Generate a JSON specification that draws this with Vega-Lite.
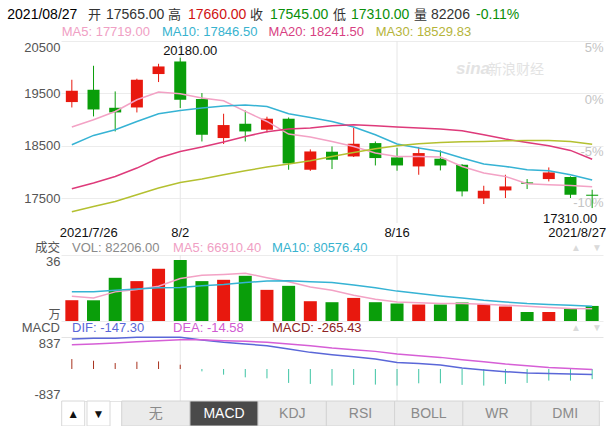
{
  "$schema": "https://vega.github.io/schema/vega-lite/v6.json",
  "padding": {"left": 7, "top": 0, "right": 0, "bottom": 0},
  "background": "white",
  "bounds": "flush",
  "spacing": 0,
  "config": {
    "view": {"stroke": null},
    "font": "Liberation Sans, Noto Sans CJK SC",
    "axis": {"domain": false, "ticks": false, "title": null, "labelFont": "Liberation Sans, Noto Sans CJK SC", "labelFontSize": 13, "labelColor": "#555555", "gridColor": "#ececec", "gridWidth": 1}
  },
  "datasets": {
    "k": [
      {"date":"2021-07-26","open":19334,"high":19760,"low":19231,"close":19550,"ma5":18857,"ma10":18519,"ma20":17679,"ma30":17240,"vol":113400,"vma5":135300,"vma10":159000,"dif":786,"dea":637,"macd":260},
      {"date":"2021-07-27","open":19569,"high":20027,"low":19060,"close":19193,"ma5":18996,"ma10":18697,"ma20":17788,"ma30":17341,"vol":113000,"vma5":126000,"vma10":159000,"dif":802,"dea":655,"macd":216},
      {"date":"2021-07-28","open":19225,"high":19537,"low":18773,"close":19136,"ma5":19155,"ma10":18806,"ma20":17914,"ma30":17437,"vol":235600,"vma5":158900,"vma10":168000,"dif":802,"dea":681,"macd":156},
      {"date":"2021-07-29","open":19231,"high":19780,"low":19136,"close":19760,"ma5":19378,"ma10":18964,"ma20":18074,"ma30":17565,"vol":217500,"vma5":172000,"vma10":174000,"dif":828,"dea":715,"macd":190},
      {"date":"2021-07-30","open":19869,"high":20065,"low":19716,"close":20014,"ma5":19525,"ma10":19111,"ma20":18265,"ma30":17692,"vol":284900,"vma5":190000,"vma10":181000,"dif":830,"dea":741,"macd":198},
      {"date":"2021-08-02","open":20109,"high":20180,"low":19220,"close":19378,"ma5":19493,"ma10":19174,"ma20":18391,"ma30":17800,"vol":332600,"vma5":232000,"vma10":183000,"dif":828,"dea":768,"macd":112},
      {"date":"2021-08-03","open":19392,"high":19506,"low":18582,"close":18710,"ma5":19411,"ma10":19220,"ma20":18475,"ma30":17864,"vol":217500,"vma5":250000,"vma10":192000,"dif":757,"dea":762,"macd":-62},
      {"date":"2021-08-04","open":18647,"high":19111,"low":18533,"close":18895,"ma5":19359,"ma10":19258,"ma20":18571,"ma30":17946,"vol":224700,"vma5":254000,"vma10":199000,"dif":697,"dea":741,"macd":-148},
      {"date":"2021-08-05","open":18920,"high":19174,"low":18582,"close":18773,"ma5":19155,"ma10":19277,"ma20":18678,"ma30":18023,"vol":246600,"vma5":260000,"vma10":210000,"dif":655,"dea":723,"macd":-218},
      {"date":"2021-08-06","open":18806,"high":19054,"low":18754,"close":19016,"ma5":18964,"ma10":19250,"ma20":18767,"ma30":18093,"vol":169900,"vma5":236000,"vma10":218000,"dif":610,"dea":697,"macd":-244},
      {"date":"2021-08-09","open":19016,"high":19040,"low":18042,"close":18163,"ma5":18723,"ma10":19111,"ma20":18819,"ma30":18151,"vol":191800,"vma5":214000,"vma10":219000,"dif":524,"dea":655,"macd":-364},
      {"date":"2021-08-10","open":18042,"high":18430,"low":18020,"close":18391,"ma5":18666,"ma10":19040,"ma20":18838,"ma30":18214,"vol":107900,"vma5":186000,"vma10":214000,"dif":435,"dea":610,"macd":-390},
      {"date":"2021-08-11","open":18386,"high":18487,"low":18055,"close":18233,"ma5":18582,"ma10":18964,"ma20":18882,"ma30":18296,"vol":102500,"vma5":168000,"vma10":210000,"dif":375,"dea":550,"macd":-434},
      {"date":"2021-08-12","open":18296,"high":18840,"low":18285,"close":18538,"ma5":18487,"ma10":18857,"ma20":18901,"ma30":18373,"vol":126000,"vma5":141000,"vma10":196000,"dif":322,"dea":506,"macd":-416},
      {"date":"2021-08-13","open":18551,"high":18582,"low":18124,"close":18265,"ma5":18361,"ma10":18710,"ma20":18882,"ma30":18443,"vol":102500,"vma5":119000,"vma10":181000,"dif":262,"dea":461,"macd":-408},
      {"date":"2021-08-16","open":18277,"high":18460,"low":18023,"close":18124,"ma5":18296,"ma10":18533,"ma20":18857,"ma30":18500,"vol":95300,"vma5":104000,"vma10":163000,"dif":173,"dea":393,"macd":-434},
      {"date":"2021-08-17","open":18105,"high":18475,"low":17946,"close":18360,"ma5":18296,"ma10":18456,"ma20":18838,"ma30":18538,"vol":89900,"vma5":99000,"vma10":150000,"dif":147,"dea":348,"macd":-374},
      {"date":"2021-08-18","open":18252,"high":18411,"low":18029,"close":18124,"ma5":18284,"ma10":18391,"ma20":18819,"ma30":18563,"vol":89900,"vma5":95000,"vma10":137000,"dif":105,"dea":304,"macd":-374},
      {"date":"2021-08-19","open":18137,"high":18150,"low":17533,"close":17628,"ma5":18105,"ma10":18265,"ma20":18786,"ma30":18576,"vol":100800,"vma5":95000,"vma10":126000,"dif":26,"dea":244,"macd":-416},
      {"date":"2021-08-20","open":17494,"high":17736,"low":17387,"close":17641,"ma5":17979,"ma10":18151,"ma20":18710,"ma30":18582,"vol":91500,"vma5":91500,"vma10":113000,"dif":-26,"dea":191,"macd":-434},
      {"date":"2021-08-23","open":17647,"high":17946,"low":17502,"close":17723,"ma5":17914,"ma10":18105,"ma20":18628,"ma30":18595,"vol":79000,"vma5":86000,"vma10":104000,"dif":-71,"dea":131,"macd":-390},
      {"date":"2021-08-24","open":17800,"high":17864,"low":17673,"close":17775,"ma5":17775,"ma10":18042,"ma20":18563,"ma30":18602,"vol":49000,"vma5":80500,"vma10":95000,"dif":-105,"dea":86,"macd":-364},
      {"date":"2021-08-25","open":17864,"high":18086,"low":17819,"close":17990,"ma5":17756,"ma10":18023,"ma20":18500,"ma30":18602,"vol":49000,"vma5":73000,"vma10":90000,"dif":-115,"dea":42,"macd":-304},
      {"date":"2021-08-26","open":17902,"high":17915,"low":17502,"close":17565,"ma5":17742,"ma10":17946,"ma20":18411,"ma30":18582,"vol":70000,"vma5":68000,"vma10":86000,"dif":-131,"dea":16,"macd":-304},
      {"date":"2021-08-27","open":17565,"high":17660,"low":17310,"close":17545,"ma5":17719,"ma10":17847,"ma20":18242,"ma30":18530,"vol":82206,"vma5":66910,"vma10":80576,"dif":-147,"dea":-15,"macd":-265}
    ],
    "vg": [{"date":"2021-08-02"},{"date":"2021-08-16"}],
    "hi": [{"date":"2021-08-02","price":20180,"label":"20180.00"}],
    "lo": [{"date":"2021-08-27","price":17310,"label":"17310.00"}],
    "one": [{}],
    "arrows": [{"b":"▲"},{"b":"▼"}],
    "tabs": [{"t":"无"},{"t":"MACD"},{"t":"KDJ"},{"t":"RSI"},{"t":"BOLL"},{"t":"WR"},{"t":"DMI"}]
  },
  "vconcat": [
    {
      "width": 542, "height": 41,
      "data": {"name": "one"},
      "layer": [
        {"mark": {"type":"text","text":"2021/08/27","align":"left","baseline":"middle","fontSize":14,"color":"#000000"}, "encoding": {"x":{"value":-53.7},"y":{"value":15.3}}},
        {"mark": {"type":"text","text":"开","align":"left","baseline":"middle","fontSize":13,"color":"#333333"}, "encoding": {"x":{"value":27},"y":{"value":15.3}}},
        {"mark": {"type":"text","text":"17565.00","align":"left","baseline":"middle","fontSize":14,"color":"#333333"}, "encoding": {"x":{"value":45},"y":{"value":15.3}}},
        {"mark": {"type":"text","text":"高","align":"left","baseline":"middle","fontSize":13,"color":"#333333"}, "encoding": {"x":{"value":107},"y":{"value":15.3}}},
        {"mark": {"type":"text","text":"17660.00","align":"left","baseline":"middle","fontSize":14,"color":"#d01212"}, "encoding": {"x":{"value":127},"y":{"value":15.3}}},
        {"mark": {"type":"text","text":"收","align":"left","baseline":"middle","fontSize":13,"color":"#333333"}, "encoding": {"x":{"value":189},"y":{"value":15.3}}},
        {"mark": {"type":"text","text":"17545.00","align":"left","baseline":"middle","fontSize":14,"color":"#0a8f0a"}, "encoding": {"x":{"value":209},"y":{"value":15.3}}},
        {"mark": {"type":"text","text":"低","align":"left","baseline":"middle","fontSize":13,"color":"#333333"}, "encoding": {"x":{"value":272},"y":{"value":15.3}}},
        {"mark": {"type":"text","text":"17310.00","align":"left","baseline":"middle","fontSize":14,"color":"#0a8f0a"}, "encoding": {"x":{"value":290},"y":{"value":15.3}}},
        {"mark": {"type":"text","text":"量","align":"left","baseline":"middle","fontSize":13,"color":"#333333"}, "encoding": {"x":{"value":353},"y":{"value":15.3}}},
        {"mark": {"type":"text","text":"82206","align":"left","baseline":"middle","fontSize":14,"color":"#333333"}, "encoding": {"x":{"value":370},"y":{"value":15.3}}},
        {"mark": {"type":"text","text":"-0.11%","align":"left","baseline":"middle","fontSize":14,"color":"#0a8f0a"}, "encoding": {"x":{"value":415},"y":{"value":15.3}}},
        {"mark": {"type":"text","text":"MA5: 17719.00","align":"left","baseline":"middle","fontSize":13,"color":"#f0a0c4"}, "encoding": {"x":{"value":0.7},"y":{"value":32}}},
        {"mark": {"type":"text","text":"MA10: 17846.50","align":"left","baseline":"middle","fontSize":13,"color":"#38b3cf"}, "encoding": {"x":{"value":101},"y":{"value":32}}},
        {"mark": {"type":"text","text":"MA20: 18241.50","align":"left","baseline":"middle","fontSize":13,"color":"#d83f82"}, "encoding": {"x":{"value":207.6},"y":{"value":32}}},
        {"mark": {"type":"text","text":"MA30: 18529.83","align":"left","baseline":"middle","fontSize":13,"color":"#b5b43a"}, "encoding": {"x":{"value":314.7},"y":{"value":32}}}
      ]
    },
    {
      "width": 542, "height": 182,
      "data": {"name": "k"},
      "encoding": {
        "x": {"field": "date", "type": "ordinal", "scale": {"type": "band", "paddingInner": 0, "paddingOuter": 0},
              "axis": {"values": ["2021-07-26","2021-08-02","2021-08-16","2021-08-27"],
                       "labelExpr": "datum.value == '2021-07-26' ? '2021/7/26' : datum.value == '2021-08-02' ? '8/2' : datum.value == '2021-08-16' ? '8/16' : '2021/8/27'",
                       "labelAlign": {"condition": [{"test": "datum.value == '2021-07-26'", "value": "left"}, {"test": "datum.value == '2021-08-27'", "value": "right"}], "value": "center"},
                       "labelOffset": {"condition": [{"test": "datum.value == '2021-07-26'", "value": -12}, {"test": "datum.value == '2021-08-27'", "value": 14}], "value": 0},
                       "labelColor": "#111111", "labelFontSize": 13, "labelPadding": 3, "labelAngle": 0, "grid": false}}
      },
      "layer": [
        {"data": {"name": "vg"}, "mark": {"type": "rule", "color": "#e6e6e6", "strokeWidth": 1}, "encoding": {}},
        {"mark": {"type": "rule", "strokeWidth": 1},
         "encoding": {
           "y": {"field": "low", "type": "quantitative", "scale": {"domain": [17025, 20500], "zero": false, "nice": false},
                 "axis": {"values": [17500, 18500, 19500, 20500], "format": "d", "labelFlush": true, "labelPadding": 1, "grid": true, "gridColor": "#ececec"}},
           "y2": {"field": "high"},
           "color": {"condition": {"test": "datum.close >= datum.open", "value": "#e8180e"}, "value": "#0a9e0a"}
         }},
        {"mark": {"type": "bar", "size": 12},
         "encoding": {
           "y": {"field": "open", "type": "quantitative", "scale": {"domain": [17025, 20500], "zero": false, "nice": false}, "axis": null},
           "y2": {"field": "close"},
           "color": {"condition": {"test": "datum.close >= datum.open", "value": "#e8180e"}, "value": "#0a9e0a"}
         }},
        {"mark": {"type": "line", "color": "#f3a2c5", "strokeWidth": 1.5},
         "encoding": {"y": {"field": "ma5", "type": "quantitative", "scale": {"domain": [17025, 20500], "zero": false, "nice": false}, "axis": null}}},
        {"mark": {"type": "line", "color": "#36b3d4", "strokeWidth": 1.5},
         "encoding": {"y": {"field": "ma10", "type": "quantitative", "scale": {"domain": [17025, 20500], "zero": false, "nice": false}, "axis": null}}},
        {"mark": {"type": "line", "color": "#de3a7a", "strokeWidth": 1.5},
         "encoding": {"y": {"field": "ma20", "type": "quantitative", "scale": {"domain": [17025, 20500], "zero": false, "nice": false}, "axis": null}}},
        {"mark": {"type": "line", "color": "#b4c030", "strokeWidth": 1.5},
         "encoding": {"y": {"field": "ma30", "type": "quantitative", "scale": {"domain": [17025, 20500], "zero": false, "nice": false},
                            "axis": {"orient": "right", "values": [17500, 18500, 19500, 20500],
                                     "labelExpr": "datum.value == 20500 ? '5%' : datum.value == 19500 ? '0%' : datum.value == 18500 ? '-5%' : '-10%'",
                                     "labelAlign": "right", "labelPadding": 0, "labelBaseline": "middle",
                                     "labelOffset": {"condition": {"test": "datum.value == 17500", "value": 4.5}, "value": 6},
                                     "labelColor": "#c4c4c4", "labelFontSize": 13, "grid": false, "labelFlush": false}}}},
        {"data": {"name": "hi"}, "mark": {"type": "text", "align": "center", "baseline": "bottom", "dx": 10, "dy": 0, "fontSize": 13, "color": "#111111"},
         "encoding": {"y": {"field": "price", "type": "quantitative", "scale": {"domain": [17025, 20500], "zero": false, "nice": false}, "axis": null}, "text": {"field": "label"}}},
        {"data": {"name": "lo"}, "mark": {"type": "text", "align": "right", "baseline": "top", "dx": 5, "dy": 4.5, "fontSize": 13, "color": "#111111"},
         "encoding": {"y": {"field": "price", "type": "quantitative", "scale": {"domain": [17025, 20500], "zero": false, "nice": false}, "axis": null}, "text": {"field": "label"}}},
        {"data": {"name": "one"}, "mark": {"type": "text", "text": "sina", "align": "left", "baseline": "middle", "fontSize": 17, "fontStyle": "italic", "fontWeight": "bold", "color": "#e3e3e3"},
         "encoding": {"x": {"value": 395}, "y": {"value": 28}}},
        {"data": {"name": "one"}, "mark": {"type": "text", "text": "新浪财经", "align": "left", "baseline": "middle", "fontSize": 14, "color": "#e3e3e3"},
         "encoding": {"x": {"value": 427}, "y": {"value": 29}}}
      ],
      "resolve": {"axis": {"y": "independent"}}
    },
    {
      "width": 542, "height": 32,
      "data": {"name": "one"},
      "layer": [
        {"mark": {"type":"text","text":"成交","align":"right","baseline":"middle","fontSize":12.5,"color":"#555555"}, "encoding": {"x":{"value":-1},"y":{"value":24.5}}},
        {"mark": {"type":"text","text":"VOL: 82206.00","align":"left","baseline":"middle","fontSize":13,"color":"#8a8a8a"}, "encoding": {"x":{"value":11},"y":{"value":24.5}}},
        {"mark": {"type":"text","text":"MA5: 66910.40","align":"left","baseline":"middle","fontSize":13,"color":"#f0a0c4"}, "encoding": {"x":{"value":112},"y":{"value":24.5}}},
        {"mark": {"type":"text","text":"MA10: 80576.40","align":"left","baseline":"middle","fontSize":13,"color":"#38b3cf"}, "encoding": {"x":{"value":211},"y":{"value":24.5}}},
        {"mark": {"type":"text","text":"▲","align":"center","baseline":"middle","fontSize":10,"color":"#dadada"}, "encoding": {"x":{"value":515},"y":{"value":24.5}}},
        {"mark": {"type":"text","text":"▼","align":"center","baseline":"middle","fontSize":10,"color":"#dadada"}, "encoding": {"x":{"value":536},"y":{"value":24.5}}}
      ]
    },
    {
      "width": 542, "height": 66,
      "data": {"name": "k"},
      "encoding": {"x": {"field": "date", "type": "ordinal", "scale": {"type": "band", "paddingInner": 0, "paddingOuter": 0}, "axis": null}},
      "layer": [
        {"data": {"name": "vg"}, "mark": {"type": "rule", "color": "#e6e6e6", "strokeWidth": 1}, "encoding": {}},
        {"mark": {"type": "bar", "size": 13},
         "encoding": {
           "y": {"field": "vol", "type": "quantitative", "scale": {"domain": [0, 360000], "nice": false},
                 "axis": {"values": [0, 360000], "labelExpr": "datum.value == 0 ? '万' : '36'", "labelFlush": true, "labelPadding": 1,
                          "labelFontSize": {"condition": {"test": "datum.value == 0", "value": 12}, "value": 13},
                          "grid": true, "gridColor": "#ececec"}},
           "color": {"condition": {"test": "datum.close >= datum.open", "value": "#e8180e"}, "value": "#0a9e0a"}
         }},
        {"mark": {"type": "line", "color": "#f3a2c5", "strokeWidth": 1.5},
         "encoding": {"y": {"field": "vma5", "type": "quantitative", "scale": {"domain": [0, 360000], "nice": false}}}},
        {"mark": {"type": "line", "color": "#36b3d4", "strokeWidth": 1.5},
         "encoding": {"y": {"field": "vma10", "type": "quantitative", "scale": {"domain": [0, 360000], "nice": false}}}}
      ]
    },
    {
      "width": 542, "height": 16,
      "data": {"name": "one"},
      "layer": [
        {"mark": {"type":"text","text":"MACD","align":"right","baseline":"middle","fontSize":13,"color":"#555555"}, "encoding": {"x":{"value":-1},"y":{"value":7.3}}},
        {"mark": {"type":"text","text":"DIF: -147.30","align":"left","baseline":"middle","fontSize":13,"color":"#5a67d8"}, "encoding": {"x":{"value":11},"y":{"value":7.3}}},
        {"mark": {"type":"text","text":"DEA: -14.58","align":"left","baseline":"middle","fontSize":13,"color":"#d05ad2"}, "encoding": {"x":{"value":112},"y":{"value":7.3}}},
        {"mark": {"type":"text","text":"MACD: -265.43","align":"left","baseline":"middle","fontSize":13,"color":"#8e2424"}, "encoding": {"x":{"value":211},"y":{"value":7.3}}},
        {"mark": {"type":"text","text":"▲","align":"center","baseline":"middle","fontSize":10,"color":"#dadada"}, "encoding": {"x":{"value":515},"y":{"value":7.3}}},
        {"mark": {"type":"text","text":"▼","align":"center","baseline":"middle","fontSize":10,"color":"#dadada"}, "encoding": {"x":{"value":536},"y":{"value":7.3}}}
      ]
    },
    {
      "width": 542, "height": 64,
      "data": {"name": "k"},
      "encoding": {"x": {"field": "date", "type": "ordinal", "scale": {"type": "band", "paddingInner": 0, "paddingOuter": 0}, "axis": null}},
      "layer": [
        {"data": {"name": "vg"}, "mark": {"type": "rule", "color": "#e6e6e6", "strokeWidth": 1}, "encoding": {}},
        {"mark": {"type": "rule", "strokeWidth": 1},
         "encoding": {
           "y": {"field": "macd", "type": "quantitative", "scale": {"domain": [-837, 837], "zero": false, "nice": false},
                 "axis": {"values": [-837, 0, 837], "labelExpr": "datum.value == 0 ? '' : datum.value > 0 ? '837' : '-837'", "labelFlush": true, "labelPadding": 1, "grid": true, "gridColor": "#e4e4e4"}},
           "y2": {"datum": 0},
           "color": {"condition": {"test": "datum.macd >= 0", "value": "#a8321e"}, "value": "#3ec4a4"}
         }},
        {"mark": {"type": "line", "color": "#5a67d8", "strokeWidth": 1.5},
         "encoding": {"y": {"field": "dif", "type": "quantitative", "scale": {"domain": [-837, 837], "zero": false, "nice": false}}}},
        {"mark": {"type": "line", "color": "#d65fd6", "strokeWidth": 1.5},
         "encoding": {"y": {"field": "dea", "type": "quantitative", "scale": {"domain": [-837, 837], "zero": false, "nice": false}}}}
      ]
    },
    {
      "width": 542, "height": 25,
      "layer": [
        {"data": {"name": "arrows"}, "mark": {"type": "rect", "fill": "#ffffff", "stroke": "#d8d8d8", "strokeWidth": 1},
         "encoding": {"x": {"field": "b", "type": "nominal", "scale": {"type": "band", "domain": ["▲","▼"], "range": [0.7, 49], "paddingInner": 0.09, "paddingOuter": 0}, "axis": null}}},
        {"data": {"name": "arrows"}, "mark": {"type": "text", "fontSize": 12, "color": "#111111", "baseline": "middle"},
         "encoding": {"x": {"field": "b", "type": "nominal", "scale": {"type": "band", "domain": ["▲","▼"], "range": [0.7, 49], "paddingInner": 0.09, "paddingOuter": 0}, "axis": null}, "text": {"field": "b"}}},
        {"data": {"name": "tabs"}, "mark": {"type": "rect", "stroke": "#d4d4d4", "strokeWidth": 1},
         "encoding": {"x": {"field": "t", "type": "nominal", "scale": {"type": "band", "domain": ["无","MACD","KDJ","RSI","BOLL","WR","DMI"], "range": [60.7, 538.3], "paddingInner": 0, "paddingOuter": 0}, "axis": null},
                      "fill": {"condition": {"test": "datum.t == 'MACD'", "value": "#4a4a4a"}, "value": "#ebebeb"}}},
        {"data": {"name": "tabs"}, "mark": {"type": "text", "fontSize": 14, "baseline": "middle"},
         "encoding": {"x": {"field": "t", "type": "nominal", "scale": {"type": "band", "domain": ["无","MACD","KDJ","RSI","BOLL","WR","DMI"], "range": [60.7, 538.3], "paddingInner": 0, "paddingOuter": 0}, "axis": null},
                      "text": {"field": "t"},
                      "color": {"condition": {"test": "datum.t == 'MACD'", "value": "#ffffff"}, "value": "#8a8a8a"}}}
      ],
      "resolve": {"scale": {"x": "independent"}}
    }
  ]
}
